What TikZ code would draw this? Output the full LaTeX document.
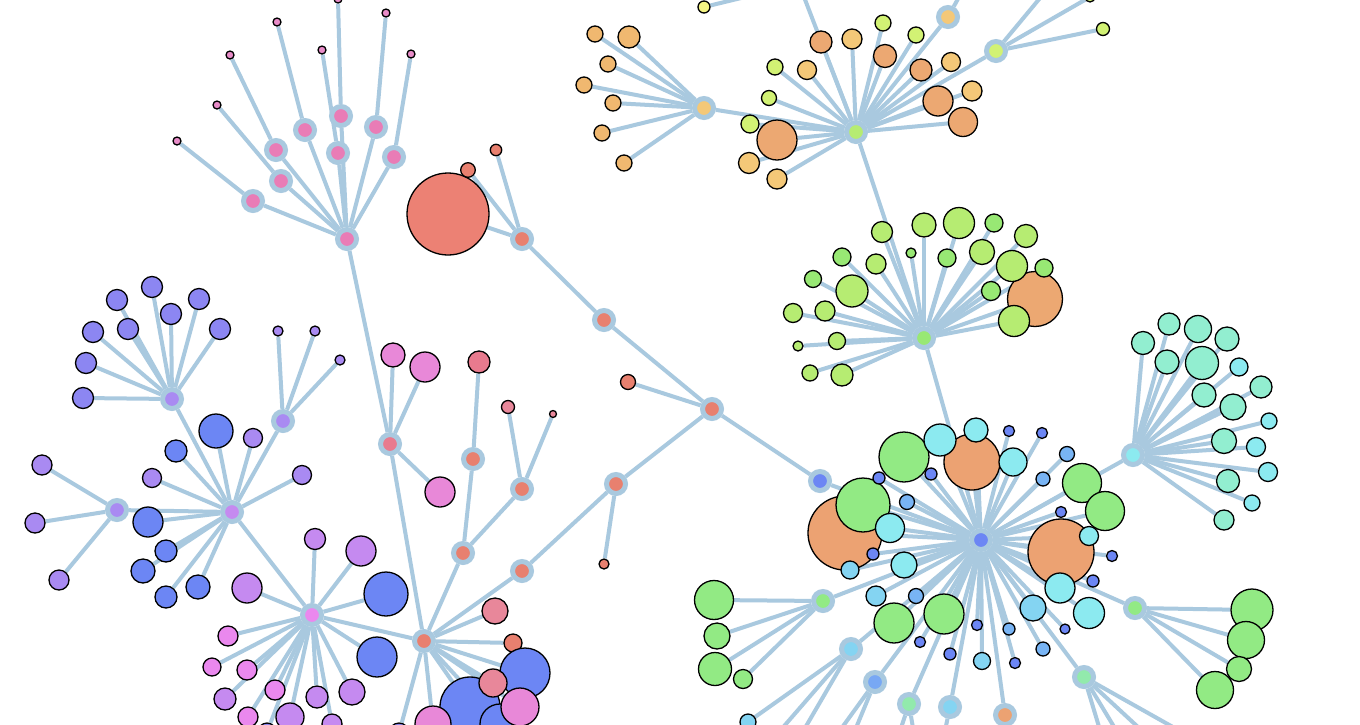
\documentclass[tikz,border=0pt]{standalone}
\pgfdeclarelayer{edges}
\pgfsetlayers{edges,main}
\definecolor{edgec}{HTML}{A9C9DF}
\definecolor{cred}{HTML}{E8806F}
\definecolor{credl}{HTML}{EC8174}
\definecolor{credp}{HTML}{E8879A}
\definecolor{cq}{HTML}{E87A8E}
\definecolor{cpinkh}{HTML}{E97CB6}
\definecolor{cpinkl}{HTML}{E88CC8}
\definecolor{cpink}{HTML}{E888D8}
\definecolor{cmag}{HTML}{EA88EE}
\definecolor{cviol}{HTML}{C58AF0}
\definecolor{cpurp}{HTML}{A98AF2}
\definecolor{cind}{HTML}{8C86F2}
\definecolor{cblue}{HTML}{6C86F4}
\definecolor{clb}{HTML}{78B4F4}
\definecolor{csky}{HTML}{84D4F2}
\definecolor{ccyan}{HTML}{8CEAF0}
\definecolor{caqua}{HTML}{92EED0}
\definecolor{cgreen}{HTML}{92EA84}
\definecolor{cgreen2}{HTML}{98E874}
\definecolor{cgb}{HTML}{92EAAC}
\definecolor{clg}{HTML}{B6EC72}
\definecolor{cyg}{HTML}{D2F274}
\definecolor{cyel}{HTML}{F4F484}
\definecolor{cgold}{HTML}{F4C878}
\definecolor{cgold2}{HTML}{F0B870}
\definecolor{cor}{HTML}{ECA872}
\definecolor{cor2}{HTML}{ECA272}
\definecolor{chb}{HTML}{78A8F4}
\tikzset{
  lk/.style={draw=edgec,line width=4pt},
  leaf/.style={circle,draw=black,line width=1.3pt,inner sep=0pt,fill=#1},
  hub/.style={circle,draw=edgec,line width=5pt,inner sep=0pt,minimum size=19pt,fill=#1},
}
\newcommand\LF[5]{\node[leaf=#5,minimum size=2*#4pt] (#1) at (#2,#3) {};}
\newcommand\HB[4]{\node[hub=#4] (#1) at (#2,#3) {};}
\begin{document}
\begin{tikzpicture}[x=1pt,y=-1pt]
\useasboundingbox (0,0) rectangle (1360,724);
\begin{pgfonlayer}{edges}
\fill[white] (0,0) rectangle (1360,724);
\end{pgfonlayer}
% ---------- red chain ----------
\HB{R0}{712}{409}{cred}
\HB{R1}{604}{320}{cred}
\HB{R2}{522}{239}{cred}
\LF{rb}{448}{214}{41}{credl}
\LF{ra}{468}{170}{7.3}{cred}
\LF{rc}{496}{150}{5.7}{cred}
\LF{rd}{628}{382}{7.5}{cred}
\HB{R3}{616}{484}{cred}
\LF{re}{604}{564}{5}{cred}
\HB{R4}{522}{571}{cred}
\HB{B0}{820}{481}{cblue}
% ---------- red hub H0 ----------
\HB{H0}{424}{641}{cred}
\LF{h1}{495}{611}{13}{credp}
\LF{h2}{513}{643}{9}{cred}
\LF{h3}{525}{673}{25}{cblue}
\LF{h4}{470}{707}{30}{cblue}
\LF{h8}{500}{724}{20}{cblue}
\LF{h5}{493}{683}{14}{credp}
\LF{h6}{520}{707}{19}{cpink}
\LF{h7}{433}{724}{18}{cpink}
\LF{h9}{399}{733}{10}{cind}
\HB{Q1}{390}{444}{cq}
\HB{Q2}{473}{459}{cred}
\HB{Q3}{522}{489}{cred}
\HB{Q4}{463}{553}{cred}
\LF{q1}{393}{355}{12}{cpink}
\LF{q2}{425}{367}{15}{cpink}
\LF{q3}{440}{492}{15}{cpink}
\LF{q4}{479}{362}{11}{cq}
\LF{q5}{508}{407}{6.5}{credp}
\LF{q6}{553}{414}{3.5}{credp}
% ---------- pink hub P0 ----------
\HB{P0}{347}{239}{cpinkh}
\HB{pa}{253}{201}{cpinkh}
\HB{pb}{281}{181}{cpinkh}
\HB{pc}{276}{150}{cpinkh}
\HB{pd}{305}{130}{cpinkh}
\HB{pe}{341}{116}{cpinkh}
\HB{pf}{338}{153}{cpinkh}
\HB{pg}{376}{127}{cpinkh}
\HB{ph}{394}{157}{cpinkh}
\LF{t1}{177}{141}{4}{cpinkl}
\LF{t2}{217}{105}{4}{cpinkl}
\LF{t3}{230}{55}{4}{cpinkl}
\LF{t4}{277}{22}{4}{cpinkl}
\LF{t5}{322}{50}{4}{cpinkl}
\LF{t6}{338}{-1}{4}{cpinkl}
\LF{t7}{386}{13}{4}{cpinkl}
\LF{t8}{411}{54}{4}{cpinkl}
% ---------- purple hub U0 ----------
\HB{U0}{232}{512}{cviol}
\LF{u1}{216}{431}{17}{cblue}
\LF{u2}{253}{438}{9.5}{cpurp}
\LF{u3}{176}{451}{11}{cblue}
\LF{u4}{152}{478}{9.5}{cpurp}
\LF{u5}{302}{475}{9.5}{cpurp}
\LF{u6}{148}{522}{15}{cblue}
\LF{u7}{166}{551}{11}{cblue}
\LF{u8}{143}{571}{12}{cblue}
\LF{u9}{166}{597}{11}{cblue}
\LF{u10}{198}{587}{12}{cblue}
\HB{U1}{283}{421}{cpurp}
\HB{U2}{117}{510}{cpurp}
\HB{U3}{172}{399}{cpurp}
\LF{v1}{278}{331}{5}{cpurp}
\LF{v2}{315}{331}{5}{cpurp}
\LF{v3}{340}{360}{5}{cpurp}
\LF{w1}{42}{465}{10}{cpurp}
\LF{w2}{35}{523}{10}{cpurp}
\LF{w3}{59}{580}{10}{cpurp}
\LF{x1}{117}{300}{10.5}{cind}
\LF{x2}{152}{287}{10.5}{cind}
\LF{x3}{199}{299}{10.5}{cind}
\LF{x4}{93}{332}{10.5}{cind}
\LF{x5}{128}{329}{10.5}{cind}
\LF{x6}{171}{314}{10.5}{cind}
\LF{x7}{220}{329}{10.5}{cind}
\LF{x8}{86}{363}{10.5}{cind}
\LF{x9}{83}{398}{10.5}{cind}
% ---------- pink hub V0 ----------
\HB{V0}{312}{615}{cmag}
\LF{s1}{315}{539}{10.5}{cviol}
\LF{s2}{361}{551}{15}{cviol}
\LF{s3}{386}{594}{22}{cblue}
\LF{s4}{377}{657}{20}{cblue}
\LF{s5}{352}{692}{13}{cviol}
\LF{s6}{317}{697}{11}{cviol}
\LF{s7}{275}{690}{10}{cmag}
\LF{s8}{247}{670}{10}{cmag}
\LF{s9}{212}{667}{9}{cmag}
\LF{s10}{228}{636}{10}{cmag}
\LF{s11}{225}{699}{11}{cviol}
\LF{s12}{248}{717}{10}{cmag}
\LF{s13}{290}{717}{14}{cviol}
\LF{s14}{332}{724}{10}{cviol}
\LF{s15}{247}{588}{15}{cviol}
\LF{s16}{267}{732}{9}{cind}
% ---------- orange hub O0 ----------
\HB{O0}{704}{108}{cgold}
\LF{o1}{595}{34}{8}{cgold2}
\LF{o2}{629}{37}{11}{cgold2}
\LF{o3}{608}{64}{8}{cgold2}
\LF{o4}{584}{85}{8}{cgold2}
\LF{o5}{613}{103}{8}{cgold2}
\LF{o6}{602}{133}{8}{cgold2}
\LF{o7}{624}{163}{8}{cgold2}
% ---------- hub G0 ----------
\HB{G0}{856}{132}{clg}
\HB{G1}{948}{17}{cgold}
\HB{G2}{996}{51}{cyg}
\LF{g1}{821}{42}{11}{cor}
\LF{g2}{852}{39}{10}{cgold}
\LF{g3}{883}{23}{8}{cyg}
\LF{g4}{775}{67}{8}{cyg}
\LF{g5}{807}{70}{9.5}{cgold}
\LF{g6}{885}{56}{11.5}{cor}
\LF{g7}{769}{98}{7.5}{cyg}
\LF{g8}{750}{124}{9}{cyg}
\LF{g9}{777}{140}{20}{cor}
\LF{g10}{749}{163}{10.5}{cgold}
\LF{g11}{777}{179}{10}{cgold}
\LF{g12}{916}{35}{8}{cyg}
\LF{g13}{921}{70}{11}{cor}
\LF{g14}{951}{62}{9.5}{cgold}
\LF{g15}{938}{101}{15}{cor}
\LF{g16}{972}{91}{10}{cgold}
\LF{g17}{963}{122}{14.5}{cor}
\LF{g18}{1103}{29}{6.5}{cyg}
\LF{g19}{1090}{-3}{5}{cyg}
\LF{y0}{704}{7}{6}{cyel}
\coordinate (za) at (799,-16);
\coordinate (zb) at (965,-14);
\coordinate (zc) at (1050,-14);
% ---------- green hub N0 ----------
\HB{N0}{924}{338}{cgreen2}
\LF{n1}{882}{232}{10.5}{clg}
\LF{n2}{842}{257}{9}{cgreen2}
\LF{n3}{876}{264}{10}{clg}
\LF{n4}{813}{279}{8.5}{cgreen2}
\LF{n5}{852}{291}{16}{clg}
\LF{n6}{793}{313}{9.5}{clg}
\LF{n7}{825}{311}{10}{clg}
\LF{n8}{798}{346}{5}{clg}
\LF{n9}{837}{341}{8.5}{clg}
\LF{n10}{810}{373}{8}{clg}
\LF{n11}{842}{375}{11}{clg}
\LF{n12}{924}{225}{12}{clg}
\LF{n13}{959}{223}{15.5}{clg}
\LF{n14}{994}{223}{9}{cgreen2}
\LF{n15}{1026}{236}{11.5}{clg}
\LF{n16}{911}{253}{5}{cgreen2}
\LF{n17}{947}{258}{9}{cgreen2}
\LF{n18}{982}{252}{12.5}{clg}
\LF{n19}{1035}{299}{27.5}{cor}
\LF{n20}{1012}{266}{15.5}{clg}
\LF{n21}{1044}{268}{9}{cgreen2}
\LF{n22}{991}{291}{9.5}{cgreen2}
\LF{n23}{1014}{321}{15.5}{clg}
% ---------- main hub M ----------
\HB{M}{981}{540}{cblue}
\LF{m1}{845}{533}{37}{cor2}
\LF{m11}{972}{462}{28}{cor2}
\LF{m21}{1061}{552}{33}{cor2}
\LF{m2}{863}{505}{27}{cgreen}
\LF{m3}{890}{528}{14.5}{ccyan}
\LF{m4}{873}{554}{6}{cblue}
\LF{m5}{850}{570}{9}{csky}
\LF{m6}{879}{478}{6}{cblue}
\LF{m7}{907}{502}{7.5}{clb}
\LF{m8}{904}{457}{25}{cgreen}
\LF{m9}{940}{440}{16}{ccyan}
\LF{m10}{931}{474}{6}{cblue}
\LF{m12}{976}{430}{12}{ccyan}
\LF{m13}{1009}{431}{5.5}{cblue}
\LF{m14}{1013}{462}{14}{ccyan}
\LF{m15}{1042}{433}{5.5}{cblue}
\LF{m16}{1067}{454}{7.5}{clb}
\LF{m17}{1043}{479}{7}{clb}
\LF{m18}{1082}{483}{19.5}{cgreen}
\LF{m19}{1105}{511}{19.5}{cgreen}
\LF{m20}{1061}{512}{5.5}{cblue}
\LF{m22}{1089}{536}{9.5}{ccyan}
\LF{m23}{1112}{556}{5.5}{cblue}
\LF{m24}{1093}{581}{6}{cblue}
\LF{m25}{1060}{588}{15}{ccyan}
\LF{m26}{1089}{613}{15.5}{ccyan}
\LF{m27}{1033}{608}{13}{csky}
\LF{m28}{1065}{629}{5}{cblue}
\LF{m29}{1043}{649}{7}{clb}
\LF{m30}{1015}{663}{5.5}{cblue}
\LF{m31}{982}{661}{8.5}{csky}
\LF{m32}{1009}{629}{6}{clb}
\LF{m33}{977}{625}{5.5}{cblue}
\LF{m34}{950}{654}{6}{cblue}
\LF{m35}{920}{642}{5.5}{cblue}
\LF{m36}{944}{614}{20}{cgreen}
\LF{m37}{894}{623}{20}{cgreen}
\LF{m38}{916}{596}{7.5}{clb}
\LF{m39}{876}{596}{10}{csky}
\LF{m40}{904}{565}{13}{ccyan}
% hubs around M
\HB{K1}{823}{601}{cgreen}
\HB{K2}{851}{649}{csky}
\HB{K3}{875}{682}{chb}
\HB{K4}{909}{704}{cgb}
\HB{K5}{950}{707}{csky}
\HB{K6}{1005}{715}{cor2}
\HB{K7}{1084}{677}{cgb}
\HB{K8}{1135}{608}{cgreen}
\HB{K9}{1133}{455}{ccyan}
\LF{k1}{714}{600}{19.5}{cgreen}
\LF{k2}{717}{636}{13}{cgreen}
\LF{k3}{715}{669}{16.5}{cgreen}
\LF{k4}{743}{679}{9.5}{cgreen}
\LF{k5}{748}{722}{8}{csky}
\LF{k6}{1252}{610}{21}{cgreen}
\LF{k7}{1246}{640}{18.5}{cgreen}
\LF{k9}{1215}{690}{18.5}{cgreen}
\LF{k8}{1239}{669}{12.5}{cgreen}
\LF{a1}{1143}{343}{11.5}{caqua}
\LF{a2}{1169}{324}{11}{caqua}
\LF{a3}{1198}{329}{13.5}{caqua}
\LF{a4}{1227}{339}{12}{caqua}
\LF{a5}{1167}{362}{12}{caqua}
\LF{a6}{1202}{363}{16.5}{caqua}
\LF{a7}{1239}{367}{9}{ccyan}
\LF{a8}{1204}{395}{12}{caqua}
\LF{a9}{1261}{387}{11}{caqua}
\LF{a10}{1233}{407}{13}{caqua}
\LF{a11}{1269}{421}{8}{ccyan}
\LF{a12}{1224}{441}{12.5}{caqua}
\LF{a13}{1256}{447}{9.5}{ccyan}
\LF{a14}{1268}{472}{9.5}{ccyan}
\LF{a15}{1228}{481}{11.5}{caqua}
\LF{a16}{1252}{503}{8}{ccyan}
\LF{a17}{1224}{520}{10}{caqua}
\coordinate (b1) at (772,740);
\coordinate (b2) at (798,740);
\coordinate (b3) at (833,740);
\coordinate (b4) at (851,740);
\coordinate (b5) at (897,740);
\coordinate (b6) at (915,740);
\coordinate (b7) at (943,740);
\coordinate (b8) at (1103,740);
\coordinate (b9) at (1122,740);
\coordinate (b10) at (1152,740);
\coordinate (b11) at (1196,740);
% ---------- edges ----------
\begin{pgfonlayer}{edges}
\foreach \a/\b in {R2/rb,R2/ra,R2/rc,R2/R1,R1/R0,R0/rd,R0/R3,R3/re,R3/R4,R4/H0,R0/B0,B0/M,
  P0/Q1,Q1/H0,Q1/q1,Q1/q2,Q1/q3,Q2/q4,Q2/Q4,Q3/q5,Q3/q6,Q3/Q4,Q4/H0,
  U0/U1,U0/U2,U0/U3,U0/V0,V0/H0,O0/G0,G0/za,y0/za,G0/G1,G0/G2,G1/zb,G2/zc,G2/g18,G2/g19,
  N0/G0,N0/M,K2/k5,K2/b1,K2/b2,K3/b3,K3/b4,K4/b5,K4/b6,K5/b7,K7/b8,K7/b9,K7/b10,K7/b11}
  {\draw[lk] (\a) -- (\b);}
\foreach \h/\l in {pa/t1,pb/t2,pc/t3,pd/t4,pf/t5,pe/t6,pg/t7,ph/t8}
  {\draw[lk] (P0) -- (\h); \draw[lk] (\h) -- (\l);}
\foreach \i in {1,...,9} {\draw[lk] (H0) -- (h\i);}
\foreach \i in {1,...,10} {\draw[lk] (U0) -- (u\i);}
\foreach \i in {1,2,3} {\draw[lk] (U1) -- (v\i); \draw[lk] (U2) -- (w\i);}
\foreach \i in {1,...,9} {\draw[lk] (U3) -- (x\i);}
\foreach \i in {1,...,16} {\draw[lk] (V0) -- (s\i);}
\foreach \i in {1,...,7} {\draw[lk] (O0) -- (o\i);}
\foreach \i in {1,...,17} {\draw[lk] (G0) -- (g\i);}
\foreach \i in {1,...,23} {\draw[lk] (N0) -- (n\i);}
\foreach \i in {1,...,40} {\draw[lk] (M) -- (m\i);}
\foreach \i in {1,...,9} {\draw[lk] (M) -- (K\i);}
\foreach \i in {1,...,4} {\draw[lk] (K1) -- (k\i);}
\foreach \i in {6,...,9} {\draw[lk] (K8) -- (k\i);}
\foreach \i in {1,...,17} {\draw[lk] (K9) -- (a\i);}
\end{pgfonlayer}
\end{tikzpicture}
\end{document}
